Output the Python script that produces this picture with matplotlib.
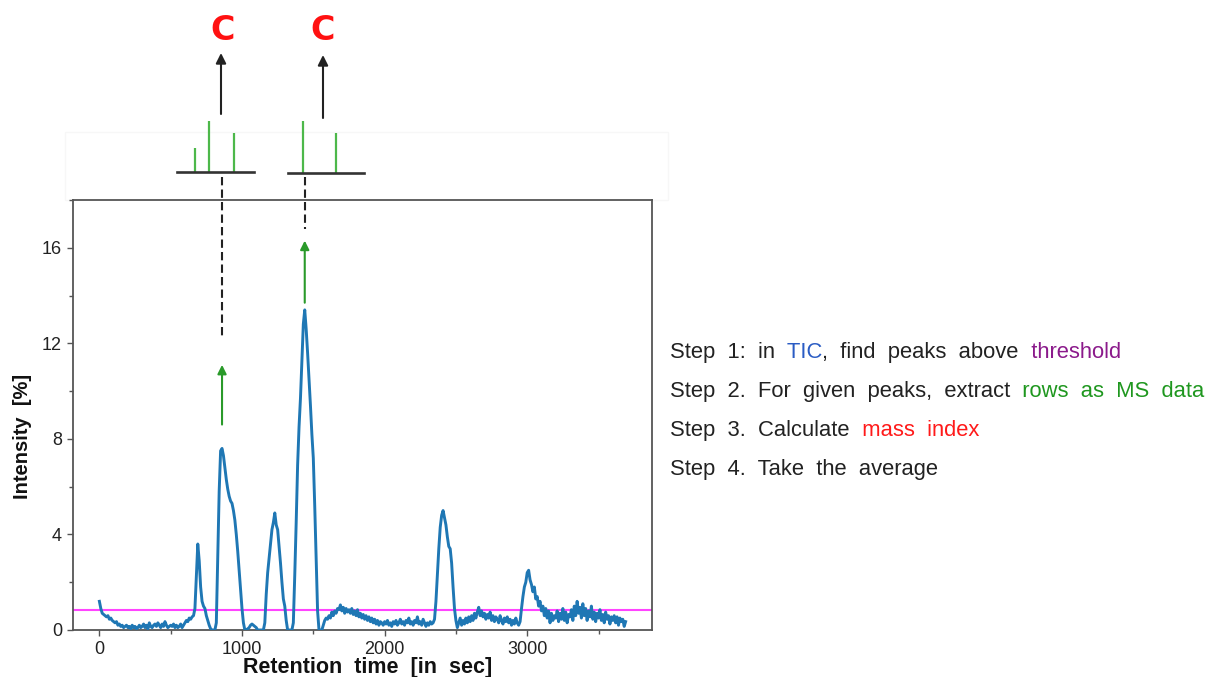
import numpy as np
import matplotlib
matplotlib.use("Agg")
import matplotlib.pyplot as plt
from matplotlib.patches import FancyArrowPatch, Rectangle
from matplotlib.ticker import MultipleLocator

# ---------------------------------------------------------------- data
# total ion current sampled every 10 s
tic_time = np.arange(0, 3700, 10)
tic_intensity = [
    1.2, 0.9, 0.7, 0.65, 0.6, 0.55, 0.6, 0.45, 0.5, 0.4,
    0.35, 0.3, 0.35, 0.2, 0.25, 0.15, 0.2, 0.1, 0.15, 0.2,
    0.1, 0.15, 0.05, 0.2, 0.1, 0.15, 0.05, 0.1, 0.2, 0.1,
    0.15, 0.25, 0.1, 0.2, 0.05, 0.3, 0.15, 0.1, 0.2, 0.25,
    0.15, 0.3, 0.2, 0.1, 0.25, 0.15, 0.35, 0.2, 0.1, 0.15,
    0.2, 0.15, 0.25, 0.1, 0.2, 0.1, 0.15, 0.25, 0.1, 0.2,
    0.3, 0.4, 0.35, 0.5, 0.45, 0.55, 0.6, 0.9, 2.2, 3.6,
    2.9, 1.8, 1.2, 1.0, 0.9, 0.6, 0.4, 0.2, 0.05, 0.0,
    0.0, 0.0, 0.3, 3.0, 5.8, 7.5, 7.6, 7.3, 6.8, 6.3,
    5.9, 5.6, 5.4, 5.3, 5.0, 4.6, 4.0, 3.3, 2.5, 1.7,
    0.9, 0.3, 0.0, 0.0, 0.05, 0.1, 0.2, 0.25, 0.2, 0.15,
    0.1, 0.0, 0.0, 0.0, 0.0, 0.0, 0.3, 1.5, 2.4, 3.0,
    3.6, 4.2, 4.5, 4.9, 4.4, 4.2, 3.5, 2.8, 2.0, 1.3,
    1.0, 0.4, 0.0, 0.0, 0.0, 0.0, 0.3, 2.3, 4.5, 6.9,
    8.5, 9.7, 11.2, 12.8, 13.4, 12.6, 11.6, 10.5, 9.4, 8.2,
    7.2, 5.2, 3.0, 0.8, 0.0, 0.0, 0.0, 0.2, 0.4, 0.5,
    0.45, 0.6, 0.5, 0.75, 0.6, 0.8, 0.7, 0.9, 0.85, 1.05,
    0.8, 0.95, 0.7, 0.9, 0.75, 0.85, 0.7, 0.9, 0.65, 0.8,
    0.6, 0.85, 0.55, 0.7, 0.5, 0.65, 0.45, 0.6, 0.4, 0.55,
    0.35, 0.5, 0.3, 0.45, 0.25, 0.4, 0.2, 0.35, 0.3, 0.2,
    0.35, 0.25, 0.4, 0.2, 0.3, 0.15, 0.35, 0.25, 0.4, 0.2,
    0.3, 0.45, 0.25, 0.35, 0.2, 0.4, 0.3, 0.5, 0.25, 0.35,
    0.2, 0.4, 0.3, 0.55, 0.25, 0.35, 0.2, 0.45, 0.3, 0.15,
    0.3, 0.2, 0.35, 0.25, 0.3, 0.45, 1.2, 2.3, 3.4, 4.3,
    4.8, 5.0, 4.7, 4.4, 3.9, 3.5, 3.4, 2.8, 1.8, 0.9,
    0.4, 0.1, 0.3, 0.5, 0.2, 0.4, 0.25, 0.5, 0.3, 0.55,
    0.35, 0.6, 0.4, 0.7, 0.5, 0.75, 0.95, 0.6, 0.8, 0.55,
    0.7, 0.45, 0.65, 0.5, 0.75, 0.4, 0.6, 0.35, 0.55, 0.45,
    0.3, 0.6, 0.4, 0.25, 0.5, 0.35, 0.55, 0.3, 0.45, 0.2,
    0.4, 0.25, 0.5, 0.3, 0.2, 0.35, 0.9, 1.4, 1.8, 2.0,
    2.4, 2.5, 2.1, 1.9, 1.6, 1.8, 1.3, 1.4, 1.0, 1.2,
    0.8, 1.0, 0.6, 0.9, 0.5, 0.8, 0.3, 0.7, 0.4, 0.6,
    0.5, 0.8, 0.35, 0.7, 0.45, 0.9, 0.4, 0.75, 0.3, 0.65,
    0.55, 0.85, 0.4, 1.0, 0.6, 1.2, 0.7, 0.95, 0.5, 1.1,
    0.6, 0.9, 0.4, 0.8, 0.55, 1.0, 0.45, 0.75, 0.35, 0.7,
    0.5, 0.85, 0.4, 0.65, 0.3, 0.75, 0.45, 0.6, 0.25, 0.55,
    0.4, 0.6, 0.3, 0.55, 0.2, 0.5, 0.35, 0.45, 0.15, 0.35,
]
threshold = 0.85

# selected peaks (retention time of the apex) and their annotation levels
peak_times = [860, 1440]
green_arrow_base = [8.6, 13.7]
green_arrow_tip = [11.1, 16.3]
dash_bottom = [12.3, 16.8]
dash_top = 18.95

# mass spectra extracted at the two peaks (relative m/z position, relative intensity)
spec1_mz = [23.4, 41.2, 74.0]
spec1_int = [0.46, 0.99, 0.75]
spec2_mz = [19.7, 63.2]
spec2_int = [1.0, 0.76]

x_ticks = [0, 1000, 2000, 3000]
y_ticks = [0, 4, 8, 12, 16]
x_label = "Retention  time  [in  sec]"
y_label = "Intensity  [%]"
class_label = "C"

BLACK = "#222222"
steps = [
    [("Step  1:  in", BLACK), ("  TIC", "#2a5cc4"), (",  find  peaks  above", BLACK),
     ("  threshold", "#8b1a8b")],
    [("Step  2.  For  given  peaks,  extract", BLACK), ("  rows  as  MS  data", "#1f971f")],
    [("Step  3.  Calculate", BLACK), ("  mass  index", "#ff1a1a")],
    [("Step  4.  Take  the  average", BLACK)],
]

# ---------------------------------------------------------------- layout
W, H = 1209, 677
FONT = ["Liberation Sans", "DejaVu Sans"]
plt.rcParams["font.family"] = FONT


def fx(px):
    return px / W


def fy(py):
    return 1 - py / H


fig = plt.figure(figsize=(W / 100, H / 100), dpi=100)
fig.patch.set_facecolor("white")

# faint frame behind the spectra strip
fig.add_artist(Rectangle((fx(65), fy(200)), fx(668) - fx(65), fy(132) - fy(200),
                         transform=fig.transFigure, facecolor="none",
                         edgecolor="#f7f7f7", lw=1.0, zorder=0))

ax = fig.add_axes([fx(73), fy(630), fx(652) - fx(73), fy(200) - fy(630)])

ax.plot(tic_time, tic_intensity, color="#1f77b4", lw=2.1, zorder=3)
ax.axhline(threshold, color="#ff44ff", lw=1.5, zorder=2)

ax.set_xlim(-185, 3875)
ax.set_ylim(0, 18)
ax.set_xticks(x_ticks)
ax.set_yticks(y_ticks)
ax.xaxis.set_minor_locator(MultipleLocator(500))
ax.yaxis.set_minor_locator(MultipleLocator(2))
ax.tick_params(which="major", direction="out", length=4, width=1.0,
               color="#555555", labelsize=13, labelcolor=BLACK, pad=4)
ax.tick_params(which="minor", direction="out", length=3, width=1.0, color="#555555")
ax.tick_params(top=False, right=False)
for sp in ax.spines.values():
    sp.set_color("#555555")
    sp.set_linewidth(1.3)

ax.set_xlabel(x_label, fontsize=15.5, fontweight="bold", color="#111111")
ax.xaxis.set_label_coords(0.508, -0.087)
ax.xaxis.label.set_va("center")
ax.set_ylabel(y_label, fontsize=14.5, fontweight="bold", color="#111111")
ax.yaxis.set_label_coords(-0.088, 0.45)
ax.yaxis.label.set_va("center")

# peak markers inside the chromatogram
for t, b, tip, db in zip(peak_times, green_arrow_base, green_arrow_tip, dash_bottom):
    ax.annotate("", xy=(t, tip), xytext=(t, b),
                arrowprops=dict(arrowstyle="-|>", color="#2a9a2a", lw=1.5,
                                mutation_scale=13, shrinkA=0, shrinkB=0),
                annotation_clip=False, zorder=4)
    ax.plot([t, t], [dash_top, db], color=BLACK, lw=1.5,
            linestyle=(0, (4, 2)), clip_on=False, zorder=4)

# extracted spectra above the chromatogram
spectra = [
    (spec1_mz, spec1_int, (177, 254, 171.7)),
    (spec2_mz, spec2_int, (288, 364, 172.7)),
]
arrow_x = [221, 323]
arrow_y = [(114, 53), (118, 55)]
label_x = [223, 323]
for (mz, inten, (x0, x1, base)), axx, (ya, yb), lx in zip(spectra, arrow_x, arrow_y, label_x):
    sax = fig.add_axes([fx(x0), fy(base), fx(x1) - fx(x0), fy(base - 51.7) - fy(base)])
    sax.set_xlim(0, 100)
    sax.set_ylim(0, 1)
    sax.axis("off")
    sax.vlines(mz, 0, inten, color="#4db84a", lw=1.6)
    sax.axhline(0, color="#333333", lw=1.9, clip_on=False)
    fig.add_artist(FancyArrowPatch((fx(axx), fy(ya)), (fx(axx), fy(yb)),
                                   transform=fig.transFigure, arrowstyle="-|>",
                                   mutation_scale=15, lw=1.5, color=BLACK,
                                   shrinkA=0, shrinkB=0))
    fig.text(fx(lx), fy(31), class_label, color="#ff1111", fontsize=24,
             fontweight="bold", ha="center", va="center", family=["DejaVu Sans"])

# workflow description
baselines = [358, 397, 436, 475]
for pieces, yb in zip(steps, baselines):
    prev = None
    for s, c in pieces:
        if prev is None:
            prev = fig.text(fx(670), fy(yb), s, color=c, fontsize=15.8,
                            ha="left", va="baseline")
        else:
            prev = ax.annotate(s, xy=(1, 0), xycoords=prev, color=c, fontsize=15.8,
                               ha="left", va="bottom", annotation_clip=False)

fig.savefig("out.png", dpi=100, facecolor="white")
